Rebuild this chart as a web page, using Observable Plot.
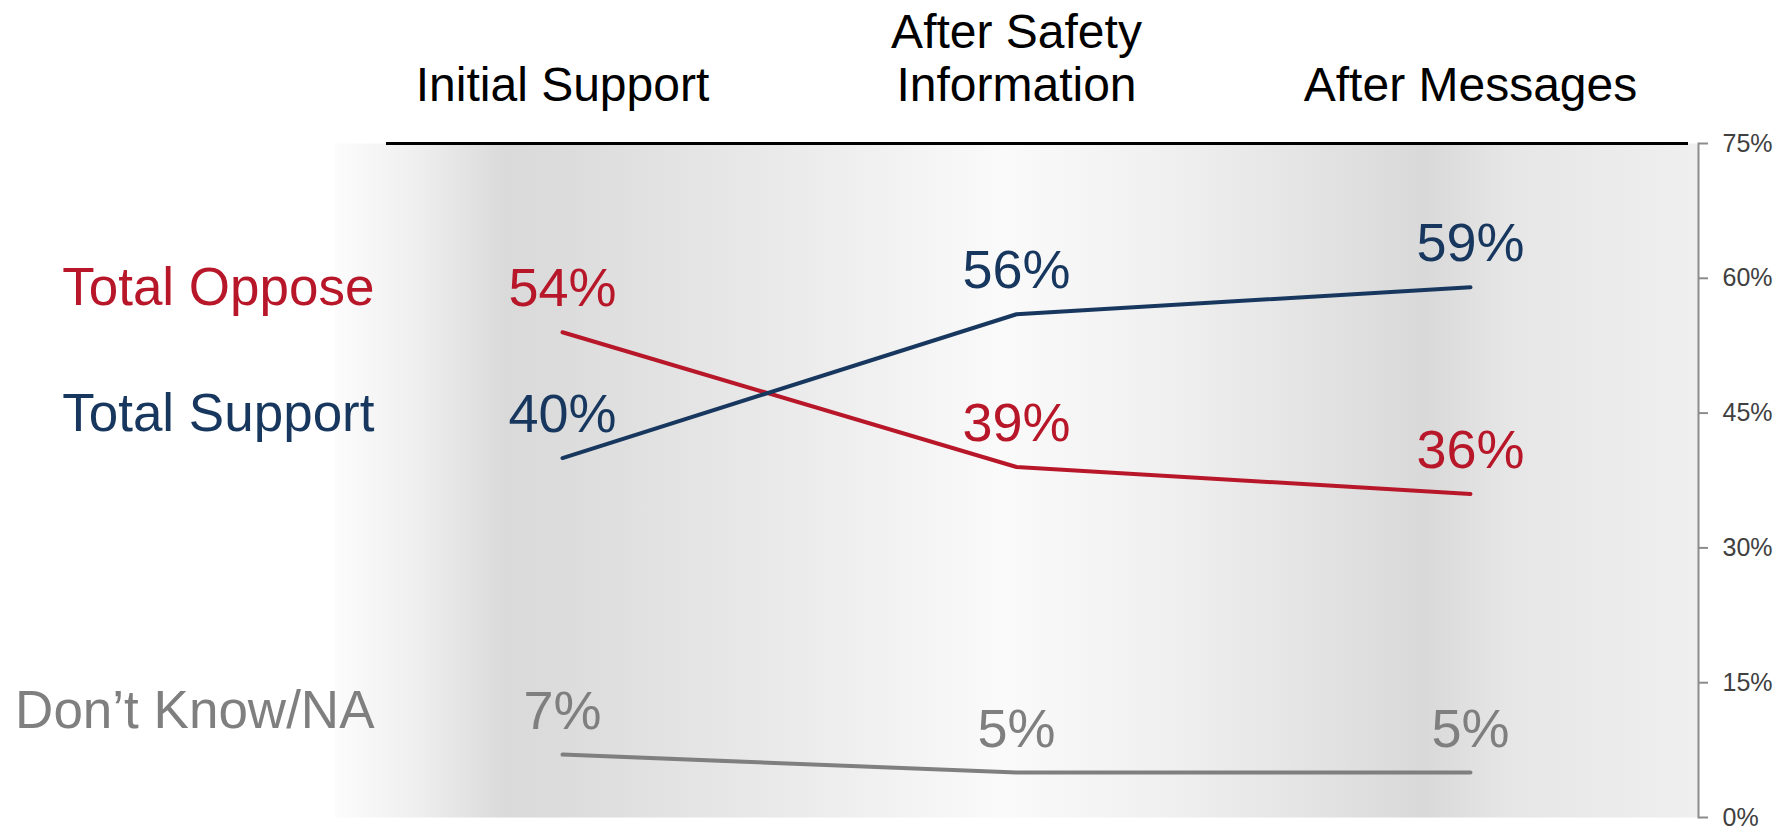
<!DOCTYPE html>
<html>
<head>
<meta charset="utf-8">
<script src="https://cdn.jsdelivr.net/npm/d3@7"></script>
<script src="https://cdn.jsdelivr.net/npm/@observablehq/plot@0.6"></script>
<style>
  html, body { margin: 0; padding: 0; background: #fff; }
  #chart svg { display: block; font-family: "Liberation Sans", Arial, sans-serif; }
</style>
</head>
<body>
<div id="chart"></div>
<script>
// ---- data ----
const categories = ["Initial Support", "After Safety\nInformation", "After Messages"];
const seriesNames = ["Total Oppose", "Total Support", "Don’t Know/NA"];
const opposeValues = [54, 39, 36];
const supportValues = [40, 56, 59];
const dontKnowValues = [7, 5, 5];
const yTicks = [0, 15, 30, 45, 60, 75];
const seriesColors = ["#b8172a", "#17375e", "#7f7f7f"];

const valuesBySeries = [opposeValues, supportValues, dontKnowValues];
const data = [];
seriesNames.forEach((s, i) => {
  categories.forEach((c, j) => data.push({series: s, cat: c, value: valuesBySeries[i][j]}));
});
const firstPoints = data.filter(d => d.cat === categories[0]);

const chart = Plot.plot({
  width: 1781,
  height: 831,
  marginLeft: 334,
  marginRight: 83,
  marginTop: 143,
  marginBottom: 14,
  style: {fontFamily: "Liberation Sans, Arial, sans-serif", background: "transparent"},
  x: {type: "point", domain: categories, padding: 0.5, axis: null},
  y: {domain: [0, 75], axis: null},
  color: {domain: seriesNames, range: seriesColors},
  marks: [
    Plot.frame({fill: "url(#bandGrad)", stroke: "none"}),
    Plot.ruleY([75], {stroke: "#000", strokeWidth: 3, insetLeft: 52, insetRight: 10}),
    Plot.frame({anchor: "right", stroke: "#8c8c8c", strokeWidth: 2}),
    Plot.axisY(yTicks, {
      anchor: "right", label: null, tickSize: 9, tickPadding: 15, stroke: "#8c8c8c", strokeWidth: 2,
      tickFormat: d => d + "%", fontSize: 25, fill: "#404040"
    }),
    Plot.line(data, {x: "cat", y: "value", z: "series", stroke: "series", strokeWidth: 4}),
    Plot.text(data, {
      x: "cat", y: "value", text: d => d.value + "%", fill: "series",
      fontSize: 54, lineAnchor: "bottom", dy: -26
    }),
    Plot.text(firstPoints, {
      x: "cat", y: "value", text: "series", fill: "series",
      fontSize: 53, textAnchor: "end", lineAnchor: "bottom", dx: -188, dy: -27
    }),
    Plot.text(categories, {
      x: d => d, text: d => d, frameAnchor: "top", fill: "#000",
      fontSize: 48, lineAnchor: "bottom", lineHeight: 1.1, dy: -43
    })
  ]
});

chart.insertAdjacentHTML("afterbegin", `
<defs>
  <linearGradient id="bandGrad" x1="0" y1="0" x2="1" y2="0">
    <stop offset="0" stop-color="#fcfcfc"/>
    <stop offset="0.06" stop-color="#efefef"/>
    <stop offset="0.125" stop-color="#dadada"/>
    <stop offset="0.17" stop-color="#dcdcdc"/>
    <stop offset="0.35" stop-color="#ececec"/>
    <stop offset="0.49" stop-color="#fafafa"/>
    <stop offset="0.62" stop-color="#efefef"/>
    <stop offset="0.80" stop-color="#d9d9d9"/>
    <stop offset="0.86" stop-color="#e6e6e6"/>
    <stop offset="1" stop-color="#efefef"/>
  </linearGradient>
</defs>`);

document.getElementById("chart").appendChild(chart);
</script>
</body>
</html>
